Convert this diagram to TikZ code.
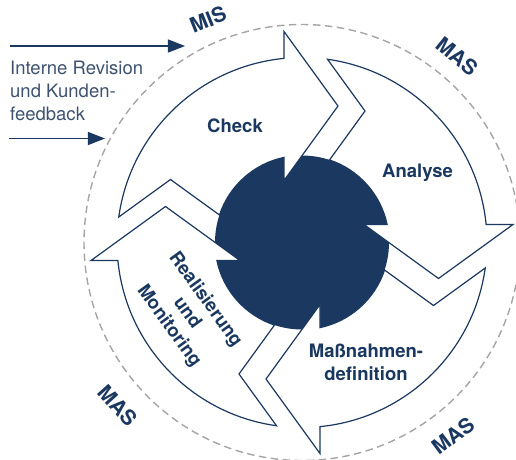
\documentclass[tikz,border=0pt]{standalone}
\usepackage{fontspec}
\setmainfont{TeX Gyre Heros}
\usetikzlibrary{arrows.meta}
\definecolor{navy}{RGB}{26,56,96}
\definecolor{softnavy}{RGB}{62,82,112}
\definecolor{dashgray}{RGB}{165,165,165}
\begin{document}
\begin{tikzpicture}[x=1pt,y=1pt,
  arrowbox/.style={draw=navy,fill=white,line width=1.2pt,line join=miter},
  lbl/.style={text=navy,inner sep=0pt,font=\bfseries\fontsize{18.5}{22.5}\selectfont},
  ring/.style={text=navy,inner sep=0pt,font=\bfseries\fontsize{21}{24}\selectfont},
  feed/.style={draw=navy,line width=1.3pt,-{Triangle[length=17pt,width=13pt]}}]
\useasboundingbox (-302,-216.5) rectangle (214,242.5);
% dashed outer ring
\draw[dashgray,line width=1.4pt,dash pattern=on 7.5pt off 4.5pt] (0,0) circle[radius=218];
% dark centre
\fill[navy] (0,0) circle[radius=87];
% four arrows
\foreach \r in {0,-90,-180,-270}{
  \begin{scope}[rotate=\r]
    \draw[arrowbox] (172.08:185) arc[start angle=172.08,end angle=95.59,radius=185]
      -- (-18,211) -- (36,136.5) -- (-18,62) -- (101.94:87)
      arc[start angle=101.94,end angle=161.57,radius=87]
      -- (-131.5,63) -- cycle;
  \end{scope}
}
% input arrows
\coordinate (in1s) at (-292,196.5);
\coordinate (in1e) at (-117,196.5);
\coordinate (in2s) at (-293,104);
\coordinate (in2e) at (-197,104);
\draw[feed] (in1s) -- (in1e);
\draw[feed] (in2s) -- (in2e);
\node[anchor=north west,align=left,inner sep=0pt,text=softnavy,
  font=\fontsize{18.5}{23}\selectfont] (feedtxt) at (-292,181.5)
  {Interne Revision\\und Kunden-\\feedback};
% arrow labels
\node[lbl,anchor=base] (check) at (-67,110.5) {Check};
\node[lbl,anchor=base] (analyse) at (115.5,65.5) {Analyse};
\node[lbl,align=center] (mass) at (64,-120) {Maßnahmen-\\definition};
\node[lbl,align=center,rotate=-54] (real) at (-115,-70.5) {Realisierung\\und\\Monitoring};
% ring labels
\node[ring,rotate=22] (mis) at (-94,223) {MIS};
\node[ring,rotate=-39] (mas1) at (155,186) {MAS};
\node[ring,rotate=37] (mas2) at (151,-193) {MAS};
\node[ring,rotate=-48] (mas3) at (-184,-163) {MAS};
\end{tikzpicture}
\end{document}
